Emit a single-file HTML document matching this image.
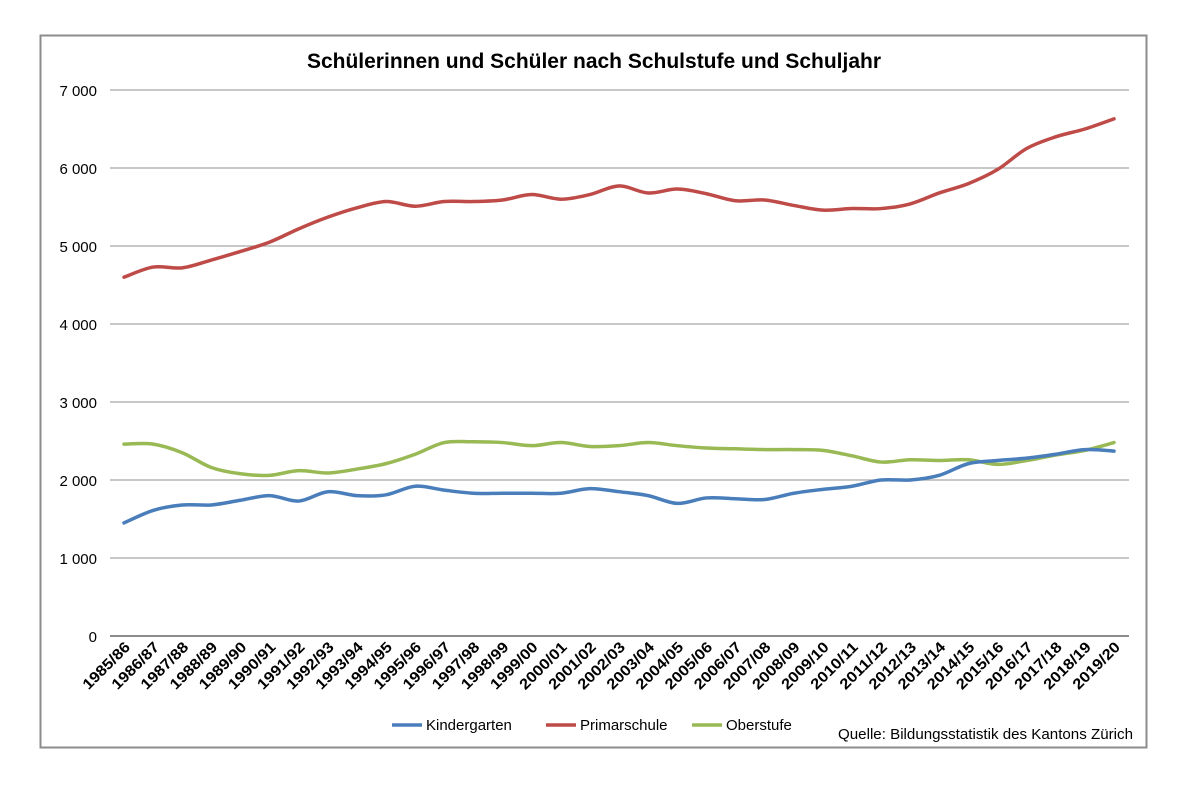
<!DOCTYPE html>
<html><head><meta charset="utf-8"><style>
html,body{margin:0;padding:0;background:#fff;}
svg{display:block;font-family:"Liberation Sans",Arial,sans-serif;}
</style></head><body>
<svg id="s" width="1200" height="800" viewBox="0 0 1200 800">
<rect x="40.5" y="35.5" width="1106" height="712" fill="#fff" stroke="#8c8c8c" stroke-width="2"/>
<text x="594" y="68" text-anchor="middle" font-size="21" font-weight="bold" fill="#000">Schülerinnen und Schüler nach Schulstufe und Schuljahr</text>
<g id="grid"></g>
<g id="lines" fill="none" stroke-width="3.5" stroke-linejoin="round" stroke-linecap="round"></g>
<g id="xl" font-size="15" font-weight="bold"></g>
<g font-size="15">
<line x1="392" y1="725" x2="422" y2="725" stroke="#4a7ebb" stroke-width="3.5"/>
<text x="426" y="730">Kindergarten</text>
<line x1="546" y1="725" x2="576" y2="725" stroke="#be4b48" stroke-width="3.5"/>
<text x="580" y="730">Primarschule</text>
<line x1="692" y1="725" x2="722" y2="725" stroke="#98b954" stroke-width="3.5"/>
<text x="726" y="730">Oberstufe</text>
</g>
<text x="838" y="739" font-size="15" textLength="295" lengthAdjust="spacingAndGlyphs">Quelle: Bildungsstatistik des Kantons Zürich</text>
</svg>
<script>
var NS="http://www.w3.org/2000/svg";
function el(t,a,p,txt){var e=document.createElementNS(NS,t);for(var k in a)e.setAttribute(k,a[k]);if(txt!=null)e.textContent=txt;document.getElementById(p).appendChild(e);return e;}
var y0=636,k=78/1000,x0=124,dx=990/34;
function Y(v){return y0-v*k;}
for(var i=0;i<=7;i++){var y=Y(i*1000);
el("line",{x1:110,x2:1129,y1:y,y2:y,stroke:i==0?"#8c8c8c":"#a6a6a6","stroke-width":i==0?2:1.2},"grid");
el("text",{x:97,y:y+6,"text-anchor":"end","font-size":"15"},"grid",i==0?"0":i+" 000");}
var kg=[1450,1610,1680,1680,1740,1800,1730,1850,1800,1810,1920,1870,1830,1830,1830,1830,1890,1850,1800,1700,1770,1760,1750,1830,1880,1920,2000,2000,2060,2210,2250,2280,2330,2390,2370];
var pr=[4600,4730,4720,4820,4930,5050,5220,5370,5490,5570,5510,5570,5570,5590,5660,5600,5660,5770,5680,5730,5670,5580,5590,5520,5460,5480,5480,5540,5680,5800,5980,6250,6400,6500,6630];
var ob=[2460,2460,2350,2160,2080,2060,2120,2090,2140,2210,2330,2480,2490,2480,2440,2480,2430,2440,2480,2440,2410,2400,2390,2390,2380,2310,2230,2260,2250,2260,2200,2250,2320,2380,2480];
function path(d){var p=d.map(function(v,i){return[x0+i*dx,Y(v)];});var s="M"+p[0];
for(var i=0;i<p.length-1;i++){var a=p[i-1]||p[i],b=p[i],c=p[i+1],e=p[i+2]||c;var t=6;
s+=" C"+(b[0]+(c[0]-a[0])/t)+","+(b[1]+(c[1]-a[1])/t)+" "+(c[0]-(e[0]-b[0])/t)+","+(c[1]-(e[1]-b[1])/t)+" "+c;}return s;}
el("path",{d:path(pr),stroke:"#be4b48"},"lines");
el("path",{d:path(ob),stroke:"#98b954"},"lines");
el("path",{d:path(kg),stroke:"#4a7ebb"},"lines");
for(var i=0;i<35;i++){var a=1985+i,b=(a+1)%100;var lab=a+"/"+(b<10?"0"+b:b);
var x=x0+i*dx+7,y=648;
el("text",{x:x,y:y,"text-anchor":"end",transform:"rotate(-45 "+x+" "+y+")",textLength:"60",lengthAdjust:"spacingAndGlyphs"},"xl",lab);}
</script>
</body></html>
